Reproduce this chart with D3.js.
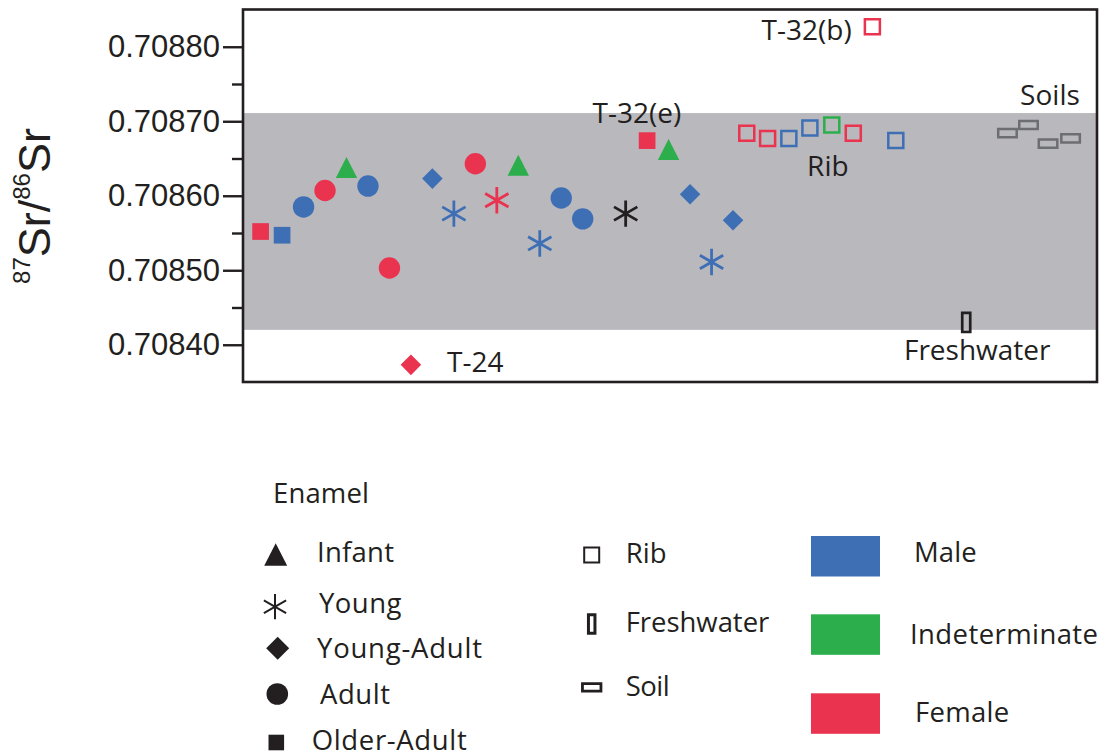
<!DOCTYPE html>
<html>
<head>
<meta charset="utf-8">
<script src="https://cdn.jsdelivr.net/npm/d3@7"></script>
<style>
  html, body { margin: 0; padding: 0; background: #fff; }
  svg { display: block; }
</style>
</head>
<body>
<svg id="chart" width="1109" height="755"></svg>
<script>
// ---------------- DATA ----------------
// Enamel samples (sample order position, 87Sr/86Sr, age class, sex)
const enamelPos = [1, 2, 3, 4, 5, 6, 7, 8, 9, 10, 11, 12, 13, 14, 15, 16, 18, 19, 20, 21, 22, 23];
const enamelSr  = [0.708552, 0.708547, 0.708585, 0.708607, 0.708638, 0.708613, 0.708503, 0.708373,
                   0.708623, 0.708576, 0.708643, 0.708594, 0.708641, 0.708536, 0.708597, 0.708569,
                   0.708576, 0.708674, 0.708662, 0.708602, 0.708511, 0.708567];
const enamelAge = ["Older-Adult", "Older-Adult", "Adult", "Adult", "Infant", "Adult", "Adult", "Young-Adult",
                   "Young-Adult", "Young", "Adult", "Young", "Infant", "Young", "Adult", "Adult",
                   "Young", "Older-Adult", "Infant", "Young-Adult", "Young", "Young-Adult"];
const enamelSex = ["Female", "Male", "Male", "Female", "Indeterminate", "Male", "Female", "Female",
                   "Male", "Male", "Female", "Female", "Indeterminate", "Male", "Male", "Male",
                   "Unknown", "Female", "Indeterminate", "Male", "Male", "Male"];

// Rib samples
const ribPos = [23.64, 24.61, 25.6, 26.58, 27.6, 28.6, 29.49, 30.58];
const ribSr  = [0.708684, 0.708677, 0.708677, 0.708691, 0.708695, 0.708684, 0.708827, 0.708674];
const ribSex = ["Female", "Female", "Male", "Male", "Indeterminate", "Female", "Female", "Male"];

// Freshwater and soils
const freshPos = [33.86];
const freshSr  = [0.708430];
const soilPos  = [35.78, 36.76, 37.67, 38.72];
const soilSr   = [0.708684, 0.708695, 0.708670, 0.708677];

// Local baseline range (grey band)
const bandRange = [0.70842, 0.708711];

// Axis
const yDomain    = [0.70835, 0.70885];
const xDomain    = [0.18, 39.95];
const majorTicks = [0.7084, 0.7085, 0.7086, 0.7087, 0.7088];
const minorTicks = [0.70845, 0.70855, 0.70865, 0.70875];

// Annotations (anchor in data coordinates)
const annoText = ["T-24", "T-32(e)", "T-32(b)", "Rib", "Soils", "Freshwater"];
const annoPos  = [9.68, 16.46, 24.33, 26.45, 36.37, 30.96];
const annoSr   = [0.708364, 0.708697, 0.708809, 0.708626, 0.708722, 0.708380];

// Legends
const ageClasses = ["Infant", "Young", "Young-Adult", "Adult", "Older-Adult"];
const materialClasses = ["Rib", "Freshwater", "Soil"];
const sexClasses = ["Male", "Indeterminate", "Female"];

// ---------------- STYLE ----------------
const sexColor = { Male: "#3e6fb5", Indeterminate: "#2bae4b", Female: "#e9334f", Unknown: "#231f20" };
const ink = "#231f20";
const soilGrey = "#6d6e71";
const bandColor = "#b9b8bd";
const sansFont = "'Open Sans', sans-serif";
const axisFont = "'Liberation Sans', Arial, sans-serif";

// ---------------- LAYOUT ----------------
const plot = { left: 243, right: 1097, top: 9.5, bottom: 382 };

const svg = d3.select("#chart");

const x = d3.scaleLinear().domain(xDomain).range([plot.left, plot.right]);
const y = d3.scaleLinear().domain(yDomain).range([plot.bottom, plot.top]);

// ---------------- SHAPES ----------------
function shapePath(type, s) {
  const p = d3.path();
  if (type === "Infant") {          // triangle
    const w = s * 1.0, h = s * 0.98;
    p.moveTo(0, -h / 2); p.lineTo(w / 2, h / 2); p.lineTo(-w / 2, h / 2); p.closePath();
  } else if (type === "Young") {    // six-armed asterisk
    const r = s * 0.6;
    p.moveTo(0, -r); p.lineTo(0, r);
    const a = Math.PI / 6, rr = r * 1.02;
    p.moveTo(-rr * Math.cos(a), -rr * Math.sin(a)); p.lineTo(rr * Math.cos(a), rr * Math.sin(a));
    p.moveTo(-rr * Math.cos(a), rr * Math.sin(a)); p.lineTo(rr * Math.cos(a), -rr * Math.sin(a));
  } else if (type === "Young-Adult") { // diamond
    const r = s * 0.48;
    p.moveTo(0, -r); p.lineTo(r, 0); p.lineTo(0, r); p.lineTo(-r, 0); p.closePath();
  } else if (type === "Adult") {    // circle
    p.arc(0, 0, s * 0.5, 0, 2 * Math.PI);
  } else if (type === "Older-Adult") { // square
    const h = s * 0.39;
    p.rect(-h, -h, 2 * h, 2 * h);
  }
  return p.toString();
}
function rectPath(w, h) {
  const p = d3.path(); p.rect(-w / 2, -h / 2, w, h); return p.toString();
}

// ---------------- PLOT ----------------
svg.append("rect")
  .attr("x", plot.left).attr("width", plot.right - plot.left)
  .attr("y", y(bandRange[1])).attr("height", y(bandRange[0]) - y(bandRange[1]))
  .attr("fill", bandColor);

const enamel = enamelPos.map((p, i) => ({ p, v: enamelSr[i], age: enamelAge[i], sex: enamelSex[i] }));
svg.append("g").selectAll("path").data(enamel).join("path")
  .attr("transform", d => `translate(${x(d.p)},${y(d.v)})`)
  .attr("d", d => shapePath(d.age, d.age === "Young" ? 22 : 21.4))
  .attr("fill", d => d.age === "Young" ? "none" : sexColor[d.sex])
  .attr("stroke", d => d.age === "Young" ? sexColor[d.sex] : "none")
  .attr("stroke-width", 2.8);

const ribs = ribPos.map((p, i) => ({ p, v: ribSr[i], sex: ribSex[i] }));
svg.append("g").selectAll("path").data(ribs).join("path")
  .attr("transform", d => `translate(${x(d.p)},${y(d.v)})`)
  .attr("d", rectPath(15, 15))
  .attr("fill", "none").attr("stroke", d => sexColor[d.sex]).attr("stroke-width", 2.5);

svg.append("g").selectAll("path").data(freshPos.map((p, i) => ({ p, v: freshSr[i] }))).join("path")
  .attr("transform", d => `translate(${x(d.p)},${y(d.v)})`)
  .attr("d", rectPath(8, 19))
  .attr("fill", "none").attr("stroke", ink).attr("stroke-width", 2.7);

svg.append("g").selectAll("path").data(soilPos.map((p, i) => ({ p, v: soilSr[i] }))).join("path")
  .attr("transform", d => `translate(${x(d.p)},${y(d.v)})`)
  .attr("d", rectPath(18.5, 8.2))
  .attr("fill", "none").attr("stroke", soilGrey).attr("stroke-width", 2.5);

svg.append("g").selectAll("text").data(annoText.map((t, i) => ({ t, p: annoPos[i], v: annoSr[i] }))).join("text")
  .attr("x", d => x(d.p)).attr("y", d => y(d.v))
  .attr("font-family", sansFont).attr("font-size", 28).attr("fill", ink)
  .text(d => d.t);

svg.append("rect")
  .attr("x", plot.left).attr("y", plot.top)
  .attr("width", plot.right - plot.left).attr("height", plot.bottom - plot.top)
  .attr("fill", "none").attr("stroke", ink).attr("stroke-width", 2.6);

const yAxis = d3.axisLeft(y).tickValues(majorTicks).tickSize(20).tickPadding(3)
  .tickFormat(d3.format(".5f"));
const gy = svg.append("g").attr("transform", `translate(${plot.left},0)`).call(yAxis);
gy.select(".domain").remove();
gy.selectAll(".tick line").attr("stroke", ink).attr("stroke-width", 2.4);
gy.selectAll(".tick text").attr("font-family", axisFont).attr("font-size", 31).attr("fill", ink);

const gy2 = svg.append("g").attr("transform", `translate(${plot.left},0)`)
  .call(d3.axisLeft(y).tickValues(minorTicks).tickSize(11).tickFormat(""));
gy2.select(".domain").remove();
gy2.selectAll(".tick line").attr("stroke", ink).attr("stroke-width", 2.4);

const yt = svg.append("text")
  .attr("transform", `translate(50,206) rotate(-90)`)
  .attr("text-anchor", "middle")
  .attr("font-family", axisFont).attr("fill", ink);
yt.append("tspan").attr("font-size", 24).attr("dy", -20).text("87");
yt.append("tspan").attr("font-size", 45).attr("dy", 20).text("Sr/");
yt.append("tspan").attr("font-size", 24).attr("dy", -20).text("86");
yt.append("tspan").attr("font-size", 45).attr("dy", 20).text("Sr");

// ---------------- LEGENDS ----------------
svg.append("text").attr("x", 273).attr("y", 503)
  .attr("font-family", sansFont).attr("font-size", 27.5).attr("fill", ink)
  .attr("textLength", 96).attr("lengthAdjust", "spacing").text("Enamel");

const ageRows = [
  { sx: 275.7, sy: 554.5, tx: 317, ty: 561.7, size: 23, len: 77 },
  { sx: 275.0, sy: 606.7, tx: 319, ty: 613, size: 21, len: 82.5 },
  { sx: 277.7, sy: 648.3, tx: 317, ty: 658, size: 24, len: 165 },
  { sx: 277.3, sy: 694.0, tx: 320, ty: 704.3, size: 21.6, len: 70 },
  { sx: 276.3, sy: 742.5, tx: 311.7, ty: 750, size: 20, len: 155 }
];
const ageLeg = svg.append("g").selectAll("g").data(ageClasses).join("g");
ageLeg.append("path")
  .attr("transform", (d, i) => `translate(${ageRows[i].sx},${ageRows[i].sy})`)
  .attr("d", (d, i) => shapePath(d, ageRows[i].size))
  .attr("fill", d => d === "Young" ? "none" : ink)
  .attr("stroke", d => d === "Young" ? ink : "none")
  .attr("stroke-width", 2);
ageLeg.append("text")
  .attr("x", (d, i) => ageRows[i].tx).attr("y", (d, i) => ageRows[i].ty)
  .attr("font-family", sansFont).attr("font-size", 27.5).attr("fill", ink)
  .attr("textLength", (d, i) => ageRows[i].len).attr("lengthAdjust", "spacing")
  .text(d => d);

const matRows = [
  { sx: 591.7, sy: 555, tx: 625.7, ty: 563.3, w: 15, h: 15, sw: 2, len: 41 },
  { sx: 591.7, sy: 624, tx: 625.7, ty: 631.7, w: 6.5, h: 18.5, sw: 3, len: 143.6 },
  { sx: 591.7, sy: 687.3, tx: 625.7, ty: 695.7, w: 18.5, h: 7.5, sw: 2.8, len: 44 }
];
const matLeg = svg.append("g").selectAll("g").data(materialClasses).join("g");
matLeg.append("path")
  .attr("transform", (d, i) => `translate(${matRows[i].sx},${matRows[i].sy})`)
  .attr("d", (d, i) => rectPath(matRows[i].w, matRows[i].h))
  .attr("fill", "none").attr("stroke", ink).attr("stroke-width", (d, i) => matRows[i].sw);
matLeg.append("text")
  .attr("x", (d, i) => matRows[i].tx).attr("y", (d, i) => matRows[i].ty)
  .attr("font-family", sansFont).attr("font-size", 27.5).attr("fill", ink)
  .attr("textLength", (d, i) => matRows[i].len).attr("lengthAdjust", "spacing")
  .text(d => d);

const sexRows = [
  { by: 536, tx: 914, ty: 562.3, len: 62.7 },
  { by: 614.3, tx: 910, ty: 644, len: 188 },
  { by: 693.3, tx: 915, ty: 722.3, len: 94.3 }
];
const sexLeg = svg.append("g").selectAll("g").data(sexClasses).join("g");
sexLeg.append("rect")
  .attr("x", 811).attr("y", (d, i) => sexRows[i].by)
  .attr("width", 69).attr("height", 40.5)
  .attr("fill", d => sexColor[d]);
sexLeg.append("text")
  .attr("x", (d, i) => sexRows[i].tx).attr("y", (d, i) => sexRows[i].ty)
  .attr("font-family", sansFont).attr("font-size", 27.5).attr("fill", ink)
  .attr("textLength", (d, i) => sexRows[i].len).attr("lengthAdjust", "spacing")
  .text(d => d);
</script>
</body>
</html>
